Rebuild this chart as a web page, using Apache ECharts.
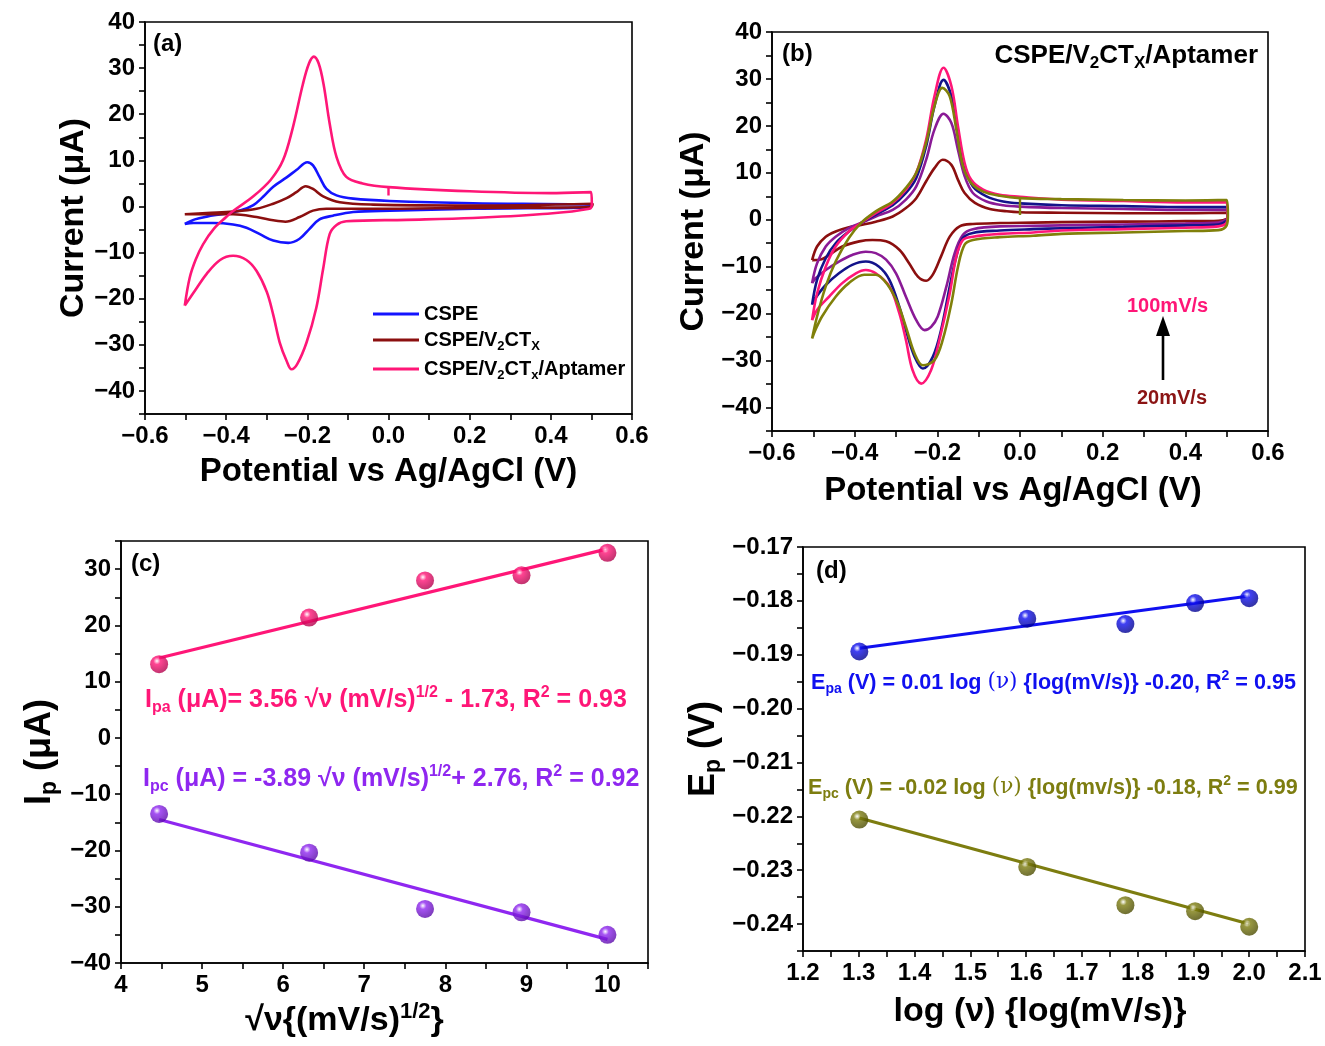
<!DOCTYPE html>
<html><head><meta charset="utf-8">
<script src="https://cdn.jsdelivr.net/npm/echarts@6/dist/echarts.min.js"></script>
<style>html,body{margin:0;padding:0;background:#fff}#c{width:1325px;height:1046px}</style>
</head><body><div id="c"></div>
<script>
// ---------- DATA ----------
// Panel (a): CV curves [potential V, current uA]
const cvA_CSPE = [[-0.502,-3.8],[-0.477,-2.8],[-0.448,-2.2],[-0.407,-1.6],[-0.366,-0.9],[-0.333,0.3],[-0.309,2.1],[-0.284,4.3],[-0.251,6.3],[-0.227,7.9],[-0.200,9.6],[-0.186,8.9],[-0.170,6.4],[-0.153,3.8],[-0.128,2.4],[-0.087,1.7],[0.003,1.2],[0.208,0.7],[0.495,0.4],[0.497,-0.1],[0.208,-0.5],[0.003,-0.9],[-0.087,-1.2],[-0.137,-2.0],[-0.170,-2.8],[-0.194,-4.8],[-0.219,-7.0],[-0.247,-7.9],[-0.284,-7.4],[-0.317,-6.0],[-0.350,-4.6],[-0.383,-3.9],[-0.432,-3.6],[-0.481,-3.6],[-0.502,-3.8]];
const cvA_V2CTx = [[-0.502,-1.7],[-0.448,-1.4],[-0.383,-1.1],[-0.325,-0.5],[-0.284,0.6],[-0.251,1.8],[-0.227,3.1],[-0.204,4.4],[-0.186,3.8],[-0.161,2.2],[-0.120,0.9],[-0.038,0.4],[0.208,0.2],[0.503,0.6],[0.499,-0.1],[0.208,-0.3],[-0.038,-0.5],[-0.153,-0.5],[-0.186,-0.9],[-0.219,-2.3],[-0.254,-3.3],[-0.284,-3.0],[-0.325,-2.3],[-0.383,-1.7],[-0.448,-1.7],[-0.502,-1.7]];
const cvA_Aptamer = [[-0.502,-21.5],[-0.490,-15.5],[-0.475,-11.5],[-0.457,-8.2],[-0.430,-4.8],[-0.400,-2.3],[-0.383,-1.0],[-0.333,2.2],[-0.290,5.8],[-0.260,10.0],[-0.236,17.0],[-0.211,26.5],[-0.196,31.0],[-0.184,32.5],[-0.172,31.0],[-0.160,26.5],[-0.145,18.0],[-0.128,10.7],[-0.104,6.4],[-0.064,5.0],[0.0,4.2],[0.2,3.3],[0.4,2.9],[0.499,3.1],[0.501,0.6],[0.495,-0.5],[0.372,-1.7],[0.208,-2.5],[0.044,-2.9],[-0.104,-3.2],[-0.128,-4.0],[-0.145,-6.0],[-0.161,-13.5],[-0.178,-22.0],[-0.202,-29.5],[-0.225,-34.2],[-0.239,-35.3],[-0.251,-33.5],[-0.268,-29.5],[-0.284,-23.5],[-0.300,-18.5],[-0.325,-14.0],[-0.350,-11.6],[-0.383,-10.7],[-0.415,-11.6],[-0.448,-14.6],[-0.475,-18.0],[-0.502,-21.5]];
const cvA_AptamerStart = [[0.0,4.2],[0.0,2.4]];

// Panel (b): CSPE/V2CTx/Aptamer at scan rates
const cvB_20 = [[-0.503,-8.6],[-0.491,-5.7],[-0.470,-3.6],[-0.446,-2.5],[-0.414,-1.6],[-0.385,-1.1],[-0.349,-0.4],[-0.308,0.7],[-0.276,2.5],[-0.251,4.6],[-0.227,8.2],[-0.207,11.0],[-0.187,12.8],[-0.166,11.7],[-0.150,8.5],[-0.134,5.7],[-0.109,3.6],[-0.073,2.3],[-0.032,1.8],[0.0,1.6],[0.1,1.5],[0.25,1.4],[0.4,1.4],[0.5,1.5],[0.502,0.8],[0.5,0.2],[0.48,-0.2],[0.4,-0.3],[0.25,-0.4],[0.1,-0.5],[0.032,-0.6],[-0.049,-0.7],[-0.114,-0.9],[-0.146,-1.4],[-0.170,-3.6],[-0.191,-7.8],[-0.211,-11.7],[-0.227,-13.0],[-0.247,-12.1],[-0.268,-9.3],[-0.292,-6.4],[-0.324,-4.6],[-0.357,-4.3],[-0.389,-4.6],[-0.430,-5.7],[-0.462,-7.5],[-0.480,-8.4],[-0.503,-8.6]];
const cvB_40 = [[-0.503,-13.5],[-0.491,-9.3],[-0.470,-5.7],[-0.446,-3.6],[-0.414,-1.8],[-0.385,-0.7],[-0.349,0.7],[-0.308,2.1],[-0.276,4.3],[-0.251,7.1],[-0.227,12.8],[-0.207,19.2],[-0.185,22.6],[-0.166,20.6],[-0.150,14.9],[-0.134,9.3],[-0.114,5.7],[-0.081,3.9],[-0.041,3.1],[0.0,2.8],[0.1,2.5],[0.25,2.3],[0.4,2.1],[0.5,2.1],[0.502,0.6],[0.5,0.1],[0.48,-0.6],[0.4,-0.8],[0.25,-1.0],[0.1,-1.2],[0.032,-1.3],[-0.049,-1.4],[-0.114,-2.0],[-0.138,-3.2],[-0.158,-7.1],[-0.178,-14.2],[-0.199,-20.6],[-0.215,-22.8],[-0.231,-23.5],[-0.251,-21.4],[-0.276,-16.4],[-0.300,-11.4],[-0.324,-8.5],[-0.349,-7.1],[-0.373,-6.8],[-0.406,-7.5],[-0.438,-8.9],[-0.470,-10.7],[-0.495,-12.5],[-0.503,-13.5]];
const cvB_60 = [[-0.503,-25.3],[-0.491,-20.6],[-0.470,-14.2],[-0.446,-8.9],[-0.414,-3.9],[-0.385,-0.7],[-0.349,1.8],[-0.308,3.9],[-0.276,6.8],[-0.251,10.0],[-0.227,16.4],[-0.207,24.2],[-0.188,28.1],[-0.170,26.3],[-0.154,19.2],[-0.138,11.4],[-0.118,7.8],[-0.089,6.0],[-0.049,5.1],[0.0,4.6],[0.1,4.4],[0.25,4.2],[0.4,4.1],[0.5,4.2],[0.503,1.0],[0.5,-1.2],[0.48,-2.2],[0.4,-2.4],[0.25,-2.7],[0.1,-3.0],[0.032,-3.4],[-0.049,-3.7],[-0.114,-4.3],[-0.134,-5.3],[-0.150,-10.0],[-0.166,-17.8],[-0.187,-25.6],[-0.207,-29.9],[-0.235,-31.0],[-0.255,-28.5],[-0.276,-22.8],[-0.296,-17.8],[-0.320,-13.9],[-0.349,-11.7],[-0.377,-11.7],[-0.414,-13.5],[-0.446,-16.4],[-0.479,-20.6],[-0.495,-23.5],[-0.503,-25.3]];
const cvB_60Start = [[0.0,4.6],[0.0,1.0]];
const cvB_80 = [[-0.503,-18.1],[-0.491,-12.8],[-0.470,-8.2],[-0.446,-5.0],[-0.414,-2.5],[-0.385,-0.7],[-0.349,1.1],[-0.308,3.1],[-0.276,5.7],[-0.251,8.9],[-0.227,15.7],[-0.207,24.2],[-0.185,29.8],[-0.166,26.3],[-0.150,18.5],[-0.134,11.4],[-0.114,7.1],[-0.081,5.0],[-0.041,3.9],[0.0,3.5],[0.1,3.1],[0.25,2.9],[0.4,2.7],[0.5,2.7],[0.502,0.5],[0.5,-0.2],[0.48,-1.0],[0.4,-1.2],[0.25,-1.5],[0.1,-1.8],[0.032,-2.0],[-0.049,-2.3],[-0.114,-2.8],[-0.138,-3.9],[-0.154,-7.8],[-0.170,-14.2],[-0.191,-23.5],[-0.211,-29.2],[-0.235,-31.7],[-0.255,-29.2],[-0.276,-23.5],[-0.292,-18.5],[-0.316,-12.8],[-0.341,-10.0],[-0.373,-8.9],[-0.406,-9.6],[-0.438,-11.4],[-0.470,-13.9],[-0.495,-16.7],[-0.503,-18.1]];
const cvB_100 = [[-0.503,-21.4],[-0.491,-15.7],[-0.470,-10.0],[-0.446,-5.7],[-0.414,-2.5],[-0.385,-0.7],[-0.349,1.4],[-0.308,3.6],[-0.276,6.4],[-0.251,10.0],[-0.227,17.1],[-0.207,26.3],[-0.185,32.4],[-0.166,28.5],[-0.150,19.9],[-0.134,12.1],[-0.118,8.5],[-0.089,6.4],[-0.049,5.3],[0.0,4.9],[0.1,4.3],[0.25,4.0],[0.4,3.7],[0.5,3.7],[0.502,1.0],[0.5,-0.6],[0.48,-1.4],[0.4,-1.7],[0.25,-2.0],[0.1,-2.3],[0.032,-2.7],[-0.049,-3.0],[-0.114,-3.6],[-0.138,-4.3],[-0.154,-7.8],[-0.170,-15.7],[-0.195,-25.6],[-0.215,-32.0],[-0.239,-34.9],[-0.260,-32.0],[-0.276,-25.6],[-0.292,-19.9],[-0.316,-14.2],[-0.349,-11.4],[-0.373,-10.7],[-0.397,-11.4],[-0.430,-13.5],[-0.462,-16.4],[-0.491,-19.2],[-0.503,-21.4]];

// Panel (c): peak current vs sqrt(scan rate)
const sqrtScanRate = [4.47, 6.32, 7.75, 8.94, 10.0];
const Ipa = [13.1, 21.4, 28.0, 28.9, 32.9];
const Ipc = [-13.5, -20.4, -30.4, -31.0, -35.0];
const IpaFit = [[4.47, 14.2], [10.0, 33.6]];
const IpcFit = [[4.47, -14.5], [10.0, -35.8]];

// Panel (d): peak potential vs log(scan rate)
const logScanRate = [1.301, 1.602, 1.778, 1.903, 2.0];
const Epa = [-0.1894, -0.1833, -0.1843, -0.1804, -0.1795];
const Epc = [-0.2206, -0.2294, -0.2365, -0.2376, -0.2405];
const EpaFit = [[1.301, -0.1888], [2.0, -0.1791]];
const EpcFit = [[1.301, -0.2203], [2.0, -0.2400]];

// ---------- STYLE HELPERS ----------
const FF = 'Liberation Sans, Arial, Helvetica, sans-serif';
const PINK = '#ff1677', BLUE = '#1414ff', BROWN = '#8b0f0f';
const NAVY = '#13138a', OLIVE = '#80800a', PURPLE = '#8a1a96';
const VIOLET = '#8f27f0', BLUE_D = '#1010f0', OLIVE_D = '#7d7d10';

function mfmt(v, d) { return (v < -1e-9 ? '\u2212' : '') + Math.abs(v).toFixed(d); }
function rich(color, size) {
  const ss = Math.round(size * 0.64);
  return {
    t: { color, fontSize: size, fontWeight: 'bold', fontFamily: FF, lineHeight: size + 6 },
    s: { color, fontSize: ss, fontWeight: 'bold', fontFamily: FF, verticalAlign: 'bottom', lineHeight: ss + 1 },
    u: { color, fontSize: ss, fontWeight: 'bold', fontFamily: FF, verticalAlign: 'top', lineHeight: ss + 1 },
    g: { color, fontSize: size, fontWeight: 'normal', fontFamily: 'DejaVu Serif, serif', lineHeight: size + 6 }
  };
}
function xAx(gi, min, max, interval, fmt, name, gap, rsz, pad) {
  return {
    type: 'value', gridIndex: gi, min, max, interval,
    axisLine: { show: true, onZero: false, lineStyle: { color: '#000', width: 1.6 } },
    axisTick: { show: true, inside: false, length: 6, lineStyle: { color: '#000', width: 1.6 } },
    axisLabel: { color: '#000', fontSize: 24, fontWeight: 'bold', fontFamily: FF, margin: 10, formatter: fmt },
    splitLine: { show: false },
    name, nameLocation: 'middle', nameGap: gap,
    nameTextStyle: { color: '#000', fontSize: rsz, fontWeight: 'bold', fontFamily: FF, padding: pad || 0, rich: rich('#000', rsz) }
  };
}
function yAx(gi, min, max, interval, fmt, name, gap, rsz) {
  const a = xAx(gi, min, max, interval, fmt, name, gap, rsz);
  a.nameRotate = 90;
  return a;
}
const fmtPot = v => (Math.abs(Math.round(v * 10)) % 2 !== 0) ? '' : mfmt(v, 1);
const fmtCur = v => (Math.round(v) % 10 !== 0) ? '' : mfmt(Math.round(v), 0);
const fmtSqrt = v => (Math.abs(v - Math.round(v)) > 1e-6) ? '' : String(Math.round(v));
const fmtLog = v => (Math.round(v * 100) % 10 !== 0) ? '' : v.toFixed(1);
const fmtEp = v => (Math.round(v * 1000) % 10 !== 0) ? '' : mfmt(v, 2);

function cv(name, data, color, xi, w) {
  return { name, type: 'line', xAxisIndex: xi, yAxisIndex: xi, data, smooth: 0.35, symbol: 'none', showSymbol: false,
    lineStyle: { color, width: w || 2.6 }, itemStyle: { color }, z: 3 };
}
function seg(data, color, xi) {
  return { type: 'line', xAxisIndex: xi, yAxisIndex: xi, data, symbol: 'none', lineStyle: { color, width: 2.4 }, z: 3 };
}
function fit(data, color, xi) {
  return { type: 'line', xAxisIndex: xi, yAxisIndex: xi, data, symbol: 'none', lineStyle: { color, width: 3.2 }, z: 3 };
}
function balls(xs, ys, color, dark, xi) {
  return { type: 'scatter', xAxisIndex: xi, yAxisIndex: xi, data: xs.map((x, i) => [x, ys[i]]), symbolSize: 18, z: 5,
    itemStyle: { color: { type: 'radial', x: 0.38, y: 0.32, r: 0.7, colorStops: [
      { offset: 0, color: '#ffffff' }, { offset: 0.28, color }, { offset: 1, color: dark }] } } };
}
function label(text, left, top, color, size, extra) {
  return Object.assign({ text, left, top, textStyle: { color, fontSize: size, fontWeight: 'bold', fontFamily: FF, rich: rich(color, size) } }, extra || {});
}

const chart = echarts.init(document.getElementById('c'), null, { renderer: 'canvas' });
chart.setOption({
  backgroundColor: '#fff',
  animation: false,
  grid: [
    { left: 145, top: 22, width: 487, height: 392, show: true, borderColor: '#000', borderWidth: 1.6 },
    { left: 772, top: 32, width: 496, height: 399, show: true, borderColor: '#000', borderWidth: 1.6 },
    { left: 121, top: 541, width: 527, height: 422, show: true, borderColor: '#000', borderWidth: 1.6 },
    { left: 803, top: 547, width: 502, height: 404, show: true, borderColor: '#000', borderWidth: 1.6 }
  ],
  xAxis: [
    xAx(0, -0.6, 0.6, 0.1, fmtPot, 'Potential vs Ag/AgCl (V)', 41, 33),
    xAx(1, -0.6, 0.6, 0.1, fmtPot, 'Potential vs Ag/AgCl (V)', 43, 33, [0, 14, 0, 0]),
    xAx(2, 4, 10.5, 0.5, fmtSqrt, '{t|\u221A\u03BD{(mV/s)}{u|1/2}}', 38, 34, [0, 80, 0, 0]),
    xAx(3, 1.2, 2.1, 0.05, fmtLog, 'log (\u03BD) {log(mV/s)}', 44, 34, [0, 28, 0, 0])
  ],
  yAxis: [
    yAx(0, -45, 40, 5, fmtCur, 'Current (\u03BCA)', 50, 34),
    yAx(1, -45, 40, 5, fmtCur, 'Current (\u03BCA)', 61, 34),
    yAx(2, -40, 35, 5, fmtCur, '{t|I}{s|p}{t| (\u03BCA)}', 60, 36),
    yAx(3, -0.245, -0.17, 0.005, fmtEp, '{t|E}{s|p}{t| (V)}', 78, 36)
  ],
  legend: {
    data: ['CSPE', 'CSPE/V2CTx', 'CSPE/V2CTx/Aptamer'],
    orient: 'vertical', left: 368, top: 299, itemWidth: 46, itemHeight: 3, itemGap: 6,
    icon: 'path://M0,0H46V3H0Z',
    formatter: n => n === 'CSPE' ? '{t|CSPE}' : (n === 'CSPE/V2CTx' ? '{t|CSPE/V}{s|2}{t|CT}{s|X}' : '{t|CSPE/V}{s|2}{t|CT}{s|x}{t|/Aptamer}'),
    textStyle: { color: '#000', fontSize: 20, fontWeight: 'bold', fontFamily: FF, rich: rich('#000', 20) }
  },
  title: [
    label('(a)', 148, 27, '#000', 24),
    label('(b)', 777, 37, '#000', 24),
    label('(c)', 126, 547, '#000', 24),
    label('(d)', 811, 554, '#000', 24),
    label('{t|CSPE/V}{s|2}{t|CT}{s|X}{t|/Aptamer}', null, 35, '#000', 26, { right: 62 }),
    label('100mV/s', 1122, 291, PINK, 20),
    label('20mV/s', 1132, 383, '#8b1414', 20),
    label('{t|I}{s|pa}{t| (\u03BCA)= 3.56 \u221A\u03BD (mV/s)}{u|1/2}{t| - 1.73, R}{u|2}{t| = 0.93}', 140, 680, PINK, 25),
    label('{t|I}{s|pc}{t| (\u03BCA) = -3.89 \u221A\u03BD (mV/s)}{u|1/2}{t|+ 2.76, R}{u|2}{t| = 0.92}', 138, 759, VIOLET, 25),
    label('{t|E}{s|pa}{t| (V) = 0.01 log }{g|(\u03BD)}{t| {log(mV/s)}}{t| -0.20, R}{u|2}{t| = 0.95}', 806, 664, BLUE_D, 21.6),
    label('{t|E}{s|pc}{t| (V) = -0.02 log }{g|(\u03BD)}{t| {log(mv/s)}}{t| -0.18, R}{u|2}{t| = 0.99}', 803, 769, OLIVE_D, 21.6)
  ],
  graphic: [
    { type: 'line', shape: { x1: 1163, y1: 380, x2: 1163, y2: 332 }, style: { stroke: '#000', lineWidth: 2.6 } },
    { type: 'polygon', shape: { points: [[1156, 336], [1170, 336], [1163, 316]] }, style: { fill: '#000' } }
  ],
  series: [
    cv('CSPE', cvA_CSPE, BLUE, 0),
    cv('CSPE/V2CTx', cvA_V2CTx, BROWN, 0),
    cv('CSPE/V2CTx/Aptamer', cvA_Aptamer, PINK, 0),
    seg(cvA_AptamerStart, PINK, 0),
    cv('20 mV/s', cvB_20, BROWN, 1),
    cv('40 mV/s', cvB_40, PURPLE, 1),
    cv('80 mV/s', cvB_80, NAVY, 1),
    cv('100 mV/s', cvB_100, PINK, 1),
    cv('60 mV/s', cvB_60, OLIVE, 1),
    seg(cvB_60Start, OLIVE, 1),
    fit(IpaFit, PINK, 2),
    fit(IpcFit, VIOLET, 2),
    balls(sqrtScanRate, Ipa, PINK, '#b0004a', 2),
    balls(sqrtScanRate, Ipc, VIOLET, '#5a0aa8', 2),
    fit(EpaFit, BLUE_D, 3),
    fit(EpcFit, OLIVE_D, 3),
    balls(logScanRate, Epa, BLUE_D, '#00008a', 3),
    balls(logScanRate, Epc, OLIVE_D, '#4a4a00', 3)
  ]
});
</script></body></html>
